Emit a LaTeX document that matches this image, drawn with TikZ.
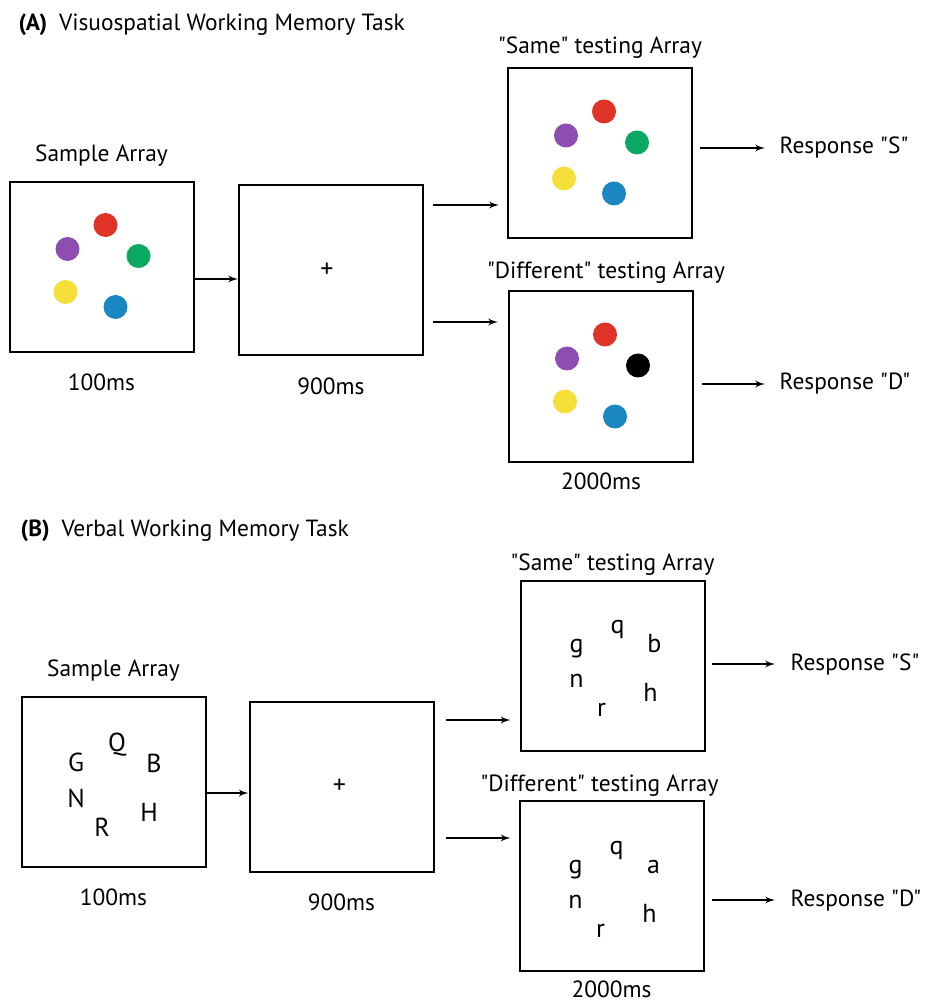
\documentclass[tikz,border=0pt]{standalone}
\usepackage{fontspec}
\setmainfont{PT Sans}[Ligatures=TeXOff]
\usepackage{tikz}
\usetikzlibrary{arrows,positioning}
\definecolor{dotred}{HTML}{DE3326}
\definecolor{dotpurple}{HTML}{8E4DB0}
\definecolor{dotgreen}{HTML}{0AA860}
\definecolor{dotyellow}{HTML}{F5DF3A}
\definecolor{dotblue}{HTML}{1A87C3}
\tikzstyle{screen}=[draw, line width=1pt, minimum width=92pt, minimum height=85pt, inner sep=0]
\tikzstyle{lbl}=[inner sep=0, text height=8.5pt, text depth=2.5pt]
\tikzstyle{dot}=[circle, inner sep=0, minimum size=12pt]
\tikzstyle{chr}=[inner sep=0, anchor=base, font=\fontsize{13}{15}\selectfont]

\begin{document}
\begin{tikzpicture}[x=0.5pt,y=-0.5pt,>=latex',line width=0.7pt,font=\fontsize{11.7}{14}\selectfont]
        \useasboundingbox (0,0) rectangle (932,1004);
        % (A) visuospatial task
        \node [anchor=base west, inner sep=0] (titleA) at (18,31) {\textbf{(A)}\enspace Visuospatial Working Memory Task};
        \node [screen] (sampleA) at (101.5,267) {};
        \node [screen] (fixA) at (331,270) {};
        \node [screen] (sameA) at (600,153.5) {};
        \node [screen] (diffA) at (601,376.5) {};
        \node [font=\fontsize{13}{15}\selectfont] (crossA) at ([xshift=-2pt]fixA.center) {+};
        \node [lbl, above=7pt of sampleA] (sampleAlbl) {Sample Array};
        \node [lbl, below=10pt of sampleA] (sampleAtime) {100ms};
        \node [lbl, below=10.5pt of fixA] (fixAtime) {900ms};
        \node [lbl, above=4pt of sameA] (sameAlbl) {"Same" testing Array};
        \node [lbl, above=3pt of diffA, xshift=2.5pt] (diffAlbl) {"Different" testing Array};
        \node [lbl, below=4.5pt of diffA] (diffAtime) {2000ms};
        \node [lbl, anchor=west] (respSA) at (779,148) {Response "S"};
        \node [lbl, anchor=west] (respDA) at (779,384) {Response "D"};
        \foreach \b/\g in {sampleA/dotgreen, sameA/dotgreen, diffA/black}
          \foreach \c/\dx/\dy [count=\i] in {dotred/4/-42, dotpurple/-34/-18, \g/37/-11, dotyellow/-36/25, dotblue/14/40}
            \node [dot, fill=\c] (\b-\i) at ([shift={(\dx,\dy)}]\b.center) {};
        \draw[->] (sampleA.east |- 0,279) -- (fixA.west |- 0,279);
        \draw[->, shorten <=4.5pt, shorten >=4pt] (fixA.east |- 0,205) -- (sameA.west |- 0,205);
        \draw[->, shorten <=4.5pt, shorten >=5pt] (fixA.east |- 0,322) -- (diffA.west |- 0,322);
        \draw[->, shorten <=3.5pt, shorten >=7pt] (sameA.east |- respSA.west) -- (respSA.west);
        \draw[->, shorten <=4pt, shorten >=7pt] (diffA.east |- respDA.west) -- (respDA.west);

        % (B) verbal task
        \node [anchor=base west, inner sep=0] (titleB) at (20,536) {\textbf{(B)}\enspace Verbal Working Memory Task};
        \node [screen] (sampleB) at (113.5,782) {};
        \node [screen] (fixB) at (341.5,786.5) {};
        \node [screen] (sameB) at (612.5,665.5) {};
        \node [screen] (diffB) at (611.5,886) {};
        \node [font=\fontsize{13}{15}\selectfont] (crossB) at ([xshift=-1pt]fixB.center) {+};
        \node [lbl, above=7pt of sampleB] (sampleBlbl) {Sample Array};
        \node [lbl, below=10pt of sampleB] (sampleBtime) {100ms};
        \node [lbl, below=10pt of fixB] (fixBtime) {900ms};
        \node [lbl, above=1.5pt of sameB] (sameBlbl) {"Same" testing Array};
        \node [lbl, above=1.5pt of diffB, xshift=-6pt] (diffBlbl) {"Different" testing Array};
        \node [lbl, below=4pt of diffB] (diffBtime) {2000ms};
        \node [lbl, anchor=west] (respSB) at (790,664) {Response "S"};
        \node [lbl, anchor=west] (respDB) at (790,900) {Response "D"};
        \foreach \t/\dx/\dy [count=\i] in {Q/3.5/-31, G/-37.5/-11, B/40.5/-10, N/-37.5/25, H/35.5/39, R/-11.5/54}
          \node [chr] (sampleB-\i) at ([shift={(\dx,\dy)}]sampleB.center) {\t};
        \foreach \b/\third in {sameB/b, diffB/a}
          \foreach \t/\dx/\dy [count=\i] in {q/5/-32, g/-36/-13, \third/42/-13, n/-36/22, h/38/36, r/-11/51}
            \node [chr] (\b-\i) at ([shift={(\dx,\dy)}]\b.center) {\t};
        \draw[->] (sampleB.east |- 0,793) -- (fixB.west |- 0,793);
        \draw[->, shorten <=5.5pt, shorten >=4.5pt] (fixB.east |- 0,720) -- (sameB.west |- 0,720);
        \draw[->, shorten <=5.5pt, shorten >=4pt] (fixB.east |- 0,838) -- (diffB.west |- 0,838);
        \draw[->, shorten <=3pt, shorten >=7.5pt] (sameB.east |- respSB.west) -- (respSB.west);
        \draw[->, shorten <=3.5pt, shorten >=7.5pt] (diffB.east |- respDB.west) -- (respDB.west);
    \end{tikzpicture}
\end{document}
